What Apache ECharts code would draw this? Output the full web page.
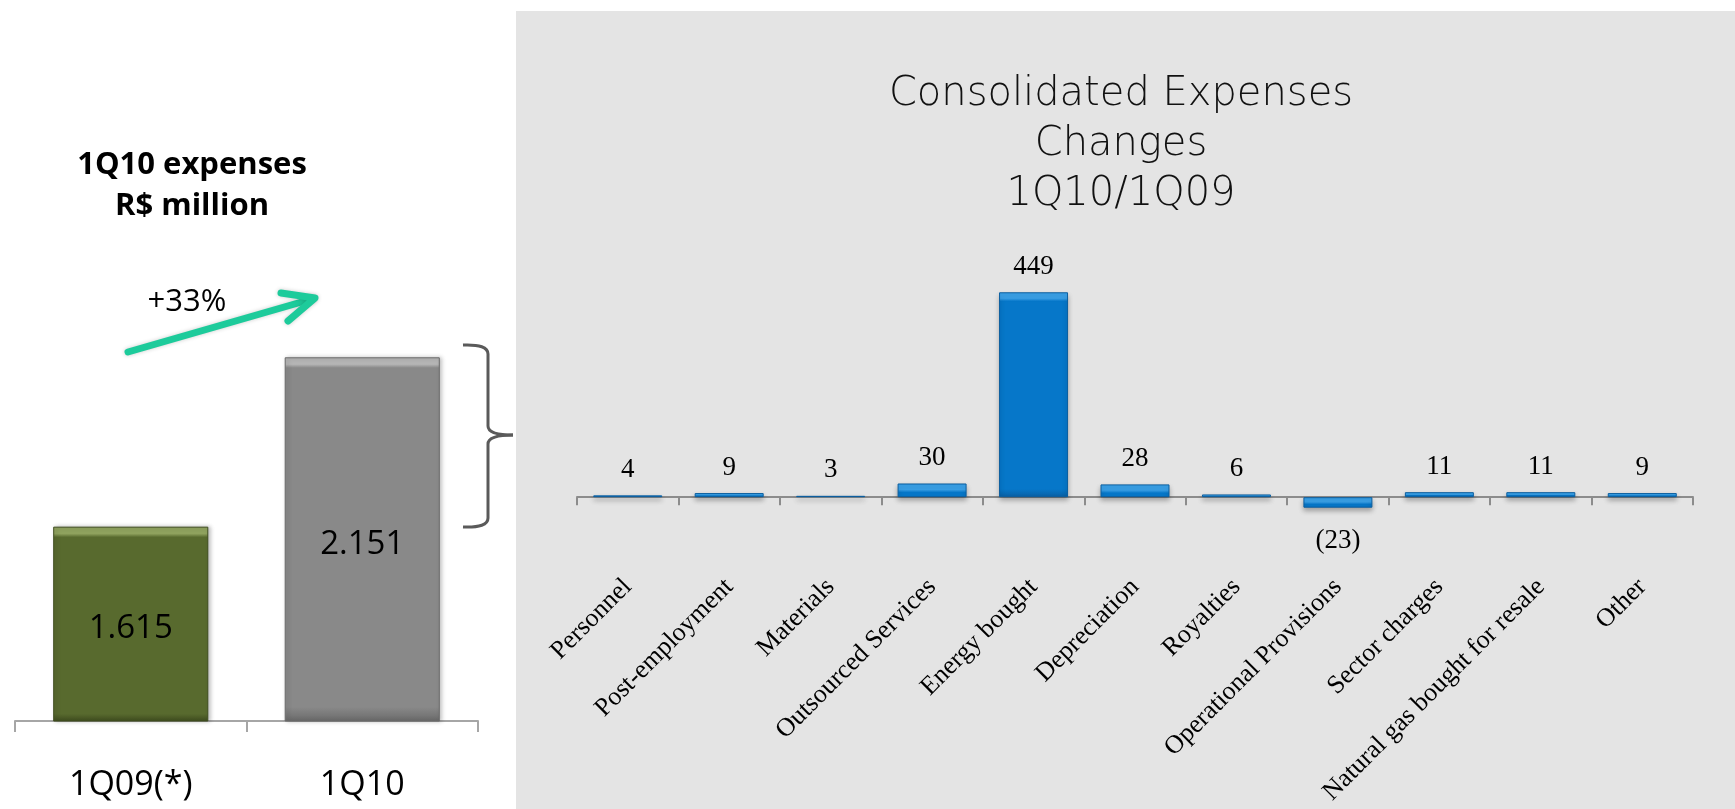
<!DOCTYPE html>
<html>
<head>
<meta charset="utf-8">
<title>Consolidated Expenses Changes</title>
<script src="https://cdn.jsdelivr.net/npm/echarts@6/dist/echarts.min.js"></script>
<style>
  html, body { margin: 0; padding: 0; background: #fff; }
  #chart { width: 1735px; height: 809px; }
</style>
</head>
<body>
<div id="chart"></div>
<script>
// totals, R$ million
const totalCategories = ["1Q09(*)", "1Q10"];
const totalValues = [1615, 2151];

// changes 1Q10/1Q09
const changeCategories = [
  "Personnel",
  "Post-employment",
  "Materials",
  "Outsourced Services",
  "Energy bought",
  "Depreciation",
  "Royalties",
  "Operational Provisions",
  "Sector charges",
  "Natural gas bought for resale",
  "Other"
];
const changeValues = [4, 9, 3, 30, 449, 28, 6, -23, 11, 11, 9];

const fmtThousands = v => String(v).replace(/\B(?=(\d{3})+(?!\d))/g, ".");
const fmtChange = v => (v < 0 ? "(" + Math.abs(v) + ")" : String(v));

// bevelled look: light strip of ~px pixels on the top edge of a bar of h pixels
function bevel(light, base, dark, px, h) {
  const t = Math.min(0.45, px / Math.max(h, 1));
  return new echarts.graphic.LinearGradient(0, 0, 0, 1, [
    { offset: 0, color: light },
    { offset: t, color: light },
    { offset: Math.min(0.9, t * 1.5), color: base },
    { offset: 0.96, color: base },
    { offset: 1, color: dark }
  ]);
}

const leftScale = 474 / 1500;   // px per R$ million above 1000
const rightScale = 251 / 550;   // px per R$ million

const totalStyles = [
  { light: "#8FA25E", base: "#586A2E", dark: "#3F4D1F" },
  { light: "#B5B5B5", base: "#898989", dark: "#6A6A6A" }
];

const chart = echarts.init(document.getElementById("chart"));

const braceStyle = { stroke: "#5A5A5A", lineWidth: 3, fill: null };
const arrowStyle = {
  stroke: "#1DCB9B",
  lineWidth: 7,
  lineCap: "round",
  lineJoin: "round",
  fill: null,
  shadowColor: "rgba(0,0,0,0.2)",
  shadowBlur: 4
};

const option = {
  backgroundColor: "#ffffff",
  animation: false,
  grid: [
    { left: 15, top: 247, width: 463, height: 474, outerBoundsMode: "none", containLabel: false },
    { left: 577, top: 269, width: 1116, height: 251, outerBoundsMode: "none", containLabel: false }
  ],
  xAxis: [
    {
      gridIndex: 0,
      type: "category",
      data: totalCategories,
      axisLine: { lineStyle: { color: "#A6A6A6", width: 2 } },
      axisTick: { show: true, length: 11, lineStyle: { color: "#A6A6A6", width: 2 } },
      axisLabel: {
        margin: 47,
        fontFamily: "Open Sans",
        fontSize: 34,
        color: "#000"
      }
    },
    {
      gridIndex: 1,
      type: "category",
      data: changeCategories,
      axisLine: { onZero: true, lineStyle: { color: "#8C8C8C", width: 2 } },
      axisTick: { show: true, length: 8, lineStyle: { color: "#8C8C8C", width: 2 } },
      axisLabel: {
        interval: 0,
        rotate: 45,
        margin: 63,
        fontFamily: "Liberation Serif",
        fontSize: 26,
        color: "#000"
      }
    }
  ],
  yAxis: [
    { gridIndex: 0, type: "value", min: 1000, max: 2500, show: false },
    { gridIndex: 1, type: "value", min: -50, max: 500, show: false }
  ],
  series: [
    {
      type: "bar",
      xAxisIndex: 0,
      yAxisIndex: 0,
      barCategoryGap: "33%",
      data: totalValues.map((v, i) => {
        const s = totalStyles[i];
        return {
          value: v,
          itemStyle: {
            color: bevel(s.light, s.base, s.dark, 7, (v - 1000) * leftScale),
            borderColor: s.dark,
            borderWidth: 1,
            shadowColor: "rgba(0,0,0,0.25)",
            shadowBlur: 4,
            shadowOffsetX: 2
          }
        };
      }),
      label: {
        show: true,
        position: "inside",
        offset: [0, 5],
        fontFamily: "Open Sans",
        fontSize: 33,
        color: "#000",
        formatter: p => fmtThousands(p.value)
      }
    },
    {
      type: "bar",
      xAxisIndex: 1,
      yAxisIndex: 1,
      barCategoryGap: "32%",
      data: changeValues.map(v => ({
        value: v,
        itemStyle: {
          color: bevel("#3AA2EA", "#0677C9", "#0A5FA3", 6, Math.abs(v) * rightScale)
        },
        label: v < 0 ? { position: "bottom", distance: 20 } : { position: "top", distance: 12 }
      })),
      itemStyle: {
        borderColor: "#0B5E9F",
        borderWidth: 1,
        shadowColor: "rgba(0,0,0,0.3)",
        shadowBlur: 5,
        shadowOffsetY: 3
      },
      label: {
        show: true,
        fontFamily: "Liberation Serif",
        fontSize: 27,
        color: "#000",
        formatter: p => fmtChange(p.value)
      }
    }
  ],
  graphic: [
    {
      type: "rect",
      z: -10,
      silent: true,
      shape: { x: 516, y: 11, width: 1219, height: 798 },
      style: { fill: "#E4E4E4" }
    },
    {
      type: "text",
      x: 1121,
      y: 70,
      style: {
        text: "Consolidated Expenses\nChanges\n1Q10/1Q09",
        fontFamily: "DejaVu Sans",
        fontWeight: 200,
        fontSize: 40,
        lineHeight: 50,
        align: "center",
        verticalAlign: "top",
        fill: "#111"
      }
    },
    {
      type: "text",
      x: 192,
      y: 145,
      style: {
        text: "1Q10 expenses\nR$ million",
        fontFamily: "Open Sans",
        fontWeight: "bold",
        fontSize: 31,
        lineHeight: 41,
        align: "center",
        verticalAlign: "top",
        fill: "#000"
      }
    },
    {
      type: "text",
      x: 187,
      y: 302,
      style: {
        text: "+33%",
        fontFamily: "Open Sans",
        fontSize: 31,
        align: "center",
        verticalAlign: "middle",
        fill: "#000"
      }
    },
    { type: "line", shape: { x1: 128, y1: 352, x2: 312, y2: 299 }, style: arrowStyle },
    { type: "polyline", shape: { points: [[281, 293], [315, 298], [288, 321]] }, style: arrowStyle },
    // brace next to the 1Q10 bar
    { type: "bezierCurve", shape: { x1: 463, y1: 345, x2: 488, y2: 354, cpx1: 488, cpy1: 344 }, style: braceStyle },
    { type: "line", shape: { x1: 488, y1: 354, x2: 488, y2: 426 }, style: braceStyle },
    { type: "bezierCurve", shape: { x1: 488, y1: 426, x2: 513, y2: 435, cpx1: 488, cpy1: 435 }, style: braceStyle },
    { type: "bezierCurve", shape: { x1: 513, y1: 435, x2: 488, y2: 444, cpx1: 488, cpy1: 435 }, style: braceStyle },
    { type: "line", shape: { x1: 488, y1: 444, x2: 488, y2: 518 }, style: braceStyle },
    { type: "bezierCurve", shape: { x1: 488, y1: 518, x2: 463, y2: 527, cpx1: 488, cpy1: 528 }, style: braceStyle }
  ]
};

chart.setOption(option);
</script>
</body>
</html>
